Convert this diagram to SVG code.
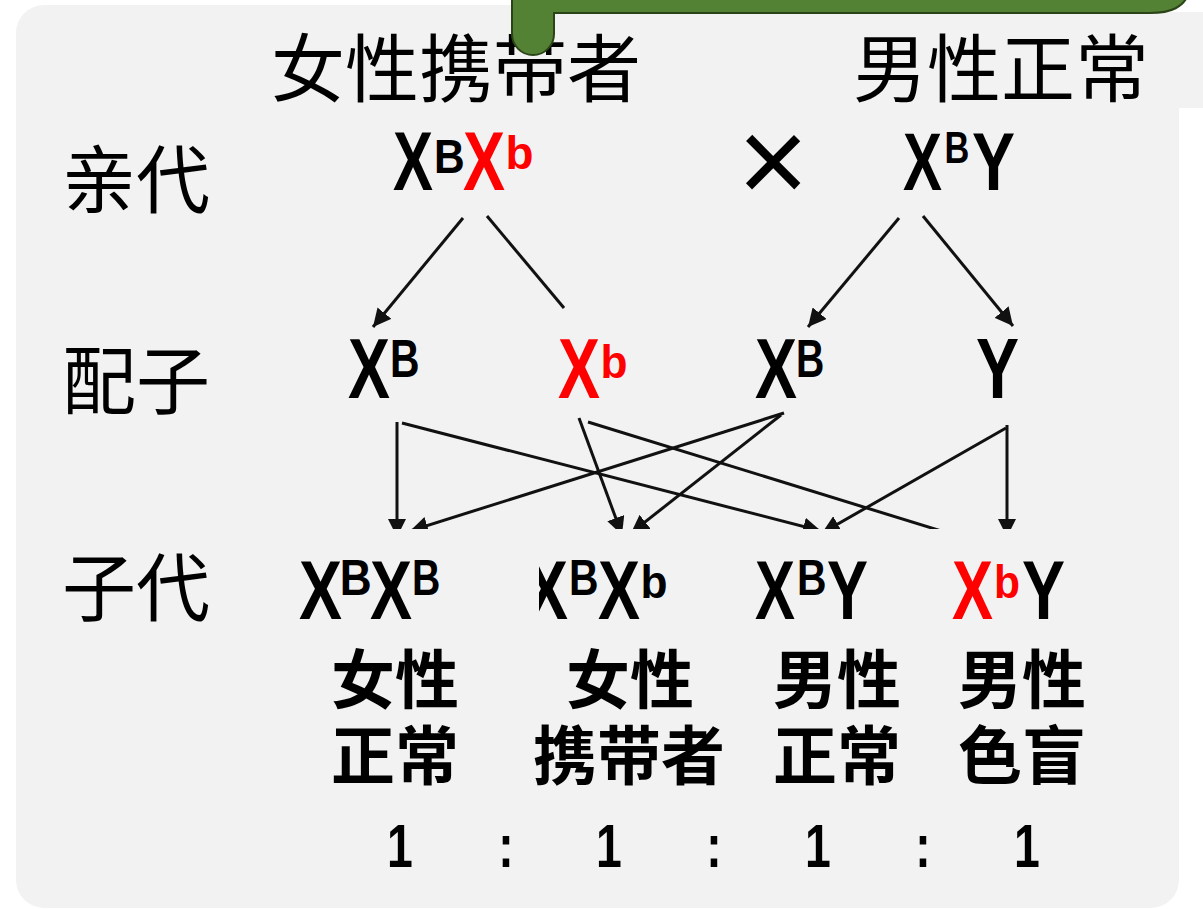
<svg xmlns="http://www.w3.org/2000/svg" width="1203" height="909" viewBox="0 0 1203 909">
<style>
.card{fill:#f2f2f2}
.cjk{font-family:"Noto Sans CJK SC","Noto Sans CJK TC",sans-serif;fill:#000}
.lbl{font-size:74px}
.blab{font-size:64px;font-weight:700;text-anchor:middle}
.geno{font-family:"Liberation Sans",Arial,sans-serif;font-weight:700;fill:#000}
.red{fill:#ff0000}
.conn{stroke:#111;stroke-width:3;fill:none}
.tab{fill:#548235;stroke:#2b4417;stroke-width:2}
</style>
<defs>
<marker id="ah" markerUnits="userSpaceOnUse" markerWidth="20" markerHeight="18" refX="18" refY="9" orient="auto">
<path d="M0,0 L18,9 L0,18 Z" fill="#111"/>
</marker>
<clipPath id="lowclip"><rect x="0" y="380" width="1203" height="149"/></clipPath>
<clipPath id="xclip"><rect x="539" y="540" width="200" height="100"/></clipPath>
</defs>
<rect width="1203" height="909" fill="#ffffff"/>
<g id="card">
<rect class="card" x="16" y="5" width="1163" height="903" rx="28"/>
<rect class="card" x="1160" y="12" width="43" height="96"/>
</g>
<g id="titles">
<text id="t-female" class="cjk lbl" x="271" y="96">女性携带者</text>
<text id="t-male" class="cjk lbl" x="853" y="96">男性正常</text>
</g>
<g id="tab">
<path class="tab" d="M512,-10 L512,34 A21,21 0 0 0 554,34 L554,13 L1150,13 C1170,13 1185,8 1190,-10 Z"/>
</g>
<g id="rowlabels">
<text id="l-parent" class="cjk lbl" x="62" y="207">亲代</text>
<text id="l-gamete" class="cjk lbl" x="62" y="408">配子</text>
<text id="l-child" class="cjk lbl" x="62" y="615">子代</text>
</g>
<g id="p-female">
<text class="geno"><tspan x="393" y="190" font-size="84" textLength="40" lengthAdjust="spacingAndGlyphs">X</tspan><tspan x="433.9" y="173" font-size="49" textLength="30.7" lengthAdjust="spacingAndGlyphs">B</tspan><tspan class="red" x="463" y="190" font-size="84" textLength="42" lengthAdjust="spacingAndGlyphs">X</tspan><tspan class="red" x="505.5" y="169" font-size="46" textLength="28" lengthAdjust="spacingAndGlyphs">b</tspan></text>
</g>
<g id="cross">
<text x="773" y="203" font-family="Liberation Sans,Arial,sans-serif" font-size="122" text-anchor="middle" fill="#000">×</text>
</g>
<g id="p-male">
<text class="geno"><tspan x="903" y="190" font-size="82" textLength="39" lengthAdjust="spacingAndGlyphs">X</tspan><tspan x="944.5" y="163" font-size="44" textLength="24.8" lengthAdjust="spacingAndGlyphs">B</tspan><tspan x="972" y="190" font-size="82" textLength="43" lengthAdjust="spacingAndGlyphs">Y</tspan></text>
</g>
<g id="g1">
<text class="geno"><tspan x="348" y="398" font-size="85" textLength="42" lengthAdjust="spacingAndGlyphs">X</tspan><tspan x="390" y="377" font-size="54" textLength="29.5" lengthAdjust="spacingAndGlyphs">B</tspan></text>
</g>
<g id="g2">
<text class="geno red"><tspan x="558" y="398" font-size="85" textLength="42" lengthAdjust="spacingAndGlyphs">X</tspan><tspan x="600.5" y="378" font-size="46" textLength="27" lengthAdjust="spacingAndGlyphs">b</tspan></text>
</g>
<g id="g3">
<text class="geno"><tspan x="755" y="398" font-size="85" textLength="42" lengthAdjust="spacingAndGlyphs">X</tspan><tspan x="796.1" y="377" font-size="54" textLength="28.3" lengthAdjust="spacingAndGlyphs">B</tspan></text>
</g>
<g id="g4">
<text class="geno"><tspan x="976" y="398" font-size="85" textLength="43" lengthAdjust="spacingAndGlyphs">Y</tspan></text>
</g>
<g id="connectors">
<line class="conn" x1="463" y1="218" x2="373" y2="327" marker-end="url(#ah)"/>
<line class="conn" x1="487" y1="216" x2="564" y2="308"/>
<line class="conn" x1="899" y1="218" x2="808" y2="327" marker-end="url(#ah)"/>
<line class="conn" x1="923" y1="216" x2="1013" y2="326" marker-end="url(#ah)"/>
<g clip-path="url(#lowclip)">
<line class="conn" x1="397" y1="422" x2="397" y2="537" marker-end="url(#ah)"/>
<line class="conn" x1="402" y1="423" x2="821" y2="531" marker-end="url(#ah)"/>
<line class="conn" x1="579" y1="418" x2="622" y2="535" marker-end="url(#ah)"/>
<line class="conn" x1="588" y1="422" x2="990" y2="546"/>
<line class="conn" x1="784" y1="413" x2="410" y2="531" marker-end="url(#ah)"/>
<line class="conn" x1="781" y1="415" x2="631" y2="533" marker-end="url(#ah)"/>
<line class="conn" x1="1006" y1="428" x2="822" y2="533" marker-end="url(#ah)"/>
<line class="conn" x1="1007" y1="425" x2="1007" y2="537" marker-end="url(#ah)"/>
</g>
</g>
<g id="c1">
<text class="geno"><tspan x="299" y="619" font-size="84" textLength="43" lengthAdjust="spacingAndGlyphs">X</tspan><tspan x="339.8" y="595" font-size="50" textLength="31.9" lengthAdjust="spacingAndGlyphs">B</tspan><tspan x="370" y="619" font-size="84" textLength="42" lengthAdjust="spacingAndGlyphs">X</tspan><tspan x="412.1" y="595" font-size="50" textLength="28.3" lengthAdjust="spacingAndGlyphs">B</tspan></text>
<text class="cjk blab"><tspan x="395" y="703">女性</tspan><tspan x="395" y="779">正常</tspan></text>
</g>
<g id="c2">
<g clip-path="url(#xclip)">
<text class="geno"><tspan x="525" y="619" font-size="84" textLength="43" lengthAdjust="spacingAndGlyphs">X</tspan><tspan x="569" y="595" font-size="50" textLength="29.5" lengthAdjust="spacingAndGlyphs">B</tspan><tspan x="598" y="619" font-size="84" textLength="42" lengthAdjust="spacingAndGlyphs">X</tspan><tspan x="640.5" y="598" font-size="46" textLength="27" lengthAdjust="spacingAndGlyphs">b</tspan></text>
</g>
<text class="cjk blab"><tspan x="630" y="703">女性</tspan><tspan x="629" y="779">携带者</tspan></text>
</g>
<g id="c3">
<text class="geno"><tspan x="755" y="619" font-size="84" textLength="40" lengthAdjust="spacingAndGlyphs">X</tspan><tspan x="797" y="595" font-size="50" textLength="29.5" lengthAdjust="spacingAndGlyphs">B</tspan><tspan x="827" y="619" font-size="84" textLength="41" lengthAdjust="spacingAndGlyphs">Y</tspan></text>
<text class="cjk blab"><tspan x="837" y="703">男性</tspan><tspan x="837" y="779">正常</tspan></text>
</g>
<g id="c4">
<text class="geno"><tspan class="red" x="952" y="619" font-size="84" textLength="41" lengthAdjust="spacingAndGlyphs">X</tspan><tspan class="red" x="994" y="598" font-size="46" textLength="26" lengthAdjust="spacingAndGlyphs">b</tspan><tspan x="1022" y="619" font-size="84" textLength="43" lengthAdjust="spacingAndGlyphs">Y</tspan></text>
<text class="cjk blab"><tspan x="1022" y="703">男性</tspan><tspan x="1022" y="779">色盲</tspan></text>
</g>
<g id="ratio">
<text class="geno" transform="scale(0.76,1)" font-size="61" text-anchor="middle"><tspan x="526.3" y="867">1</tspan><tspan x="665.8" y="867">:</tspan><tspan x="801.3" y="867">1</tspan><tspan x="939.5" y="867">:</tspan><tspan x="1076.3" y="867">1</tspan><tspan x="1214.5" y="867">:</tspan><tspan x="1351.3" y="867">1</tspan></text>
</g>
</svg>
